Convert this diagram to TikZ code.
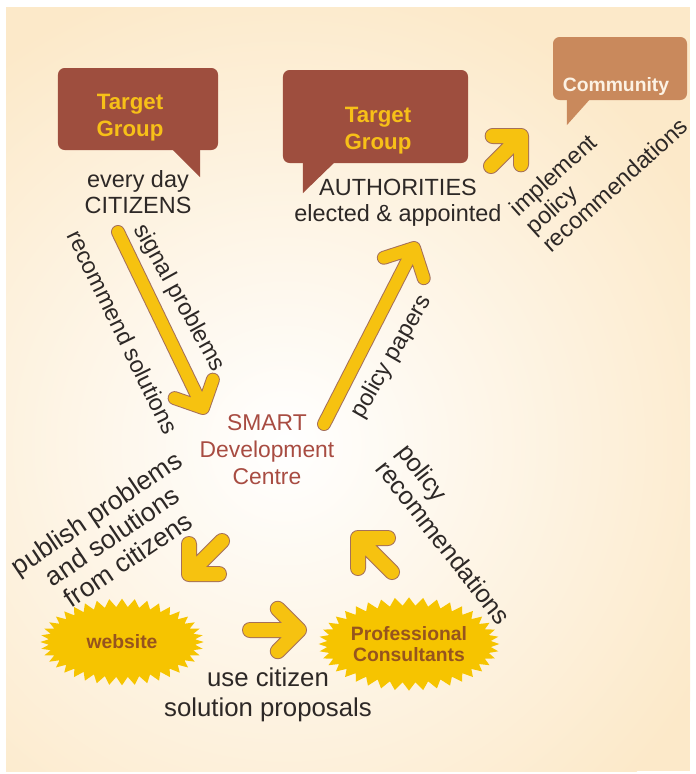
\documentclass[tikz,border=0pt]{standalone}
\usepackage{fontspec}
\setmainfont{Liberation Sans}
\usetikzlibrary{calc,shapes.symbols}
\definecolor{bgbeige}{RGB}{252,233,201}
\definecolor{tgbrown}{RGB}{158,78,62}
\definecolor{combrown}{RGB}{201,137,92}
\definecolor{comtext}{RGB}{252,242,228}
\definecolor{tgyellow}{RGB}{247,192,24}
\definecolor{smartred}{RGB}{168,76,66}
\definecolor{burstyellow}{RGB}{246,196,0}
\definecolor{burstbrown}{RGB}{150,84,30}
\definecolor{arrowfill}{RGB}{246,194,16}
\definecolor{arrowedge}{RGB}{165,112,90}
\definecolor{inktext}{RGB}{45,40,38}
\begin{document}
\begin{tikzpicture}[x=0.03cm,y=-0.03cm,
  bubble/.style={rounded corners=0.2cm,inner sep=0pt},
  headtext/.style={font=\bfseries\fontsize{19}{23}\selectfont,text=tgyellow,align=center},
  saytext/.style={font=\fontsize{20}{22.5}\selectfont,text=inktext,align=center},
  burst/.style={starburst,fill=burstyellow,starburst points=40,starburst point height=0.25cm,random starburst=0,inner sep=0pt,
    font=\bfseries\fontsize{16.5}{17.5}\selectfont,text=burstbrown,align=center},
  fatarrow/.style={draw=arrowedge,line width=0.03cm,double=arrowfill,double distance=0.36cm,line cap=round,line join=round},
  smallarrow/.style={fatarrow,double distance=0.42cm}]
 \useasboundingbox (0,0) rectangle (696,774);
 \fill[bgbeige] (6,7) rectangle (690,771);
 \begin{scope}
  \clip (6,7) rectangle (690,771);
  \shade[inner color=white,outer color=bgbeige] (285,445) circle (14.4cm);
 \end{scope}

 \node[bubble,fill=tgbrown,minimum width=4.8cm,minimum height=2.46cm] (citbox) at (138,109) {};
 \fill[tgbrown] ($(citbox.south east)+(-48,-3)$) -- ($(citbox.south east)+(-18,27)$) -- ($(citbox.south east)+(-18,-3)$) -- cycle;
 \node[bubble,fill=tgbrown,minimum width=5.55cm,minimum height=2.79cm] (authbox) at (375.5,116.5) {};
 \fill[tgbrown] ($(authbox.south west)+(20,-3)$) -- ($(authbox.south west)+(20,30)$) -- ($(authbox.south west)+(54,-3)$) -- cycle;
 \node[bubble,fill=combrown,minimum width=4.02cm,minimum height=1.89cm] (combox) at (620,68.5) {};
 \fill[combrown] ($(combox.south west)+(14,-3)$) -- ($(combox.south west)+(14,25)$) -- ($(combox.south west)+(39,-3)$) -- cycle;

 \node[headtext] (cittitle) at (130,118) {Target\\Group};
 \node[headtext] (authtitle) at (378,131) {Target\\Group};
 \node[headtext,font=\bfseries\fontsize{16.5}{18}\selectfont,text=comtext] (comtitle) at (616,86) {Community};

 \node[saytext] (citizens) at (138,192) {every day\\CITIZENS};
 \node[saytext] (authorities) at (398,203) {AUTHORITIES\\elected \& appointed};
 \node[saytext,text=smartred,font=\fontsize{19.5}{23}\selectfont] (smart) at (267,450) {SMART\\Development\\Centre};
 \node[saytext,font=\fontsize{22}{25.5}\selectfont] (usetext) at (268,695) {use citizen\\solution proposals};

 \node[saytext,rotate=-61] (signal) at (179,298) {signal problems};
 \node[saytext,rotate=-64] (recommend) at (123,332) {recommend solutions};
 \node[saytext,rotate=60] (papers) at (392,357) {policy papers};
 \node[saytext,rotate=-52,align=left,anchor=west,font=\fontsize{21.5}{23}\selectfont] (policyrec) at (390,452) {policy\\recommendations};
 \node[saytext,rotate=42,align=left,anchor=west,font=\fontsize{20}{21}\selectfont] (implement) at (526,232) {implement\\policy\\recommendations};
 \node[saytext,rotate=34,font=\fontsize{22.5}{24}\selectfont] (publish) at (112,536) {publish problems\\and solutions\\from citizens};

 \node[burst,minimum width=4.9cm,minimum height=2.6cm] (website) at (122,642) {website};
 \node[burst,minimum width=4.9cm,minimum height=2.8cm] (consult) at (409,644) {Professional\\Consultants};

 \coordinate (sigtail) at (118,232);
 \coordinate (sigtip) at (203,408);
 \coordinate (paptail) at (324,424);
 \coordinate (paptip) at (414,248);
 \coordinate (comtail) at (491,166);
 \coordinate (comtip) at (521,136);
 \coordinate (webtail) at (222,541);
 \coordinate (webtip) at (189,574);
 \coordinate (usetail) at (250,630);
 \coordinate (usetip) at (299,630);
 \coordinate (rectail) at (392,572);
 \coordinate (rectip) at (358,538);
 \draw[fatarrow] (sigtail) -- (sigtip) ($(sigtip)!0.9cm!45:(sigtail)$) -- (sigtip) -- ($(sigtip)!0.9cm!-45:(sigtail)$);
 \draw[fatarrow] (paptail) -- (paptip) ($(paptip)!0.95cm!45:(paptail)$) -- (paptip) -- ($(paptip)!0.95cm!-45:(paptail)$);
 \draw[smallarrow] (comtail) -- (comtip) ($(comtip)!0.85cm!45:(comtail)$) -- (comtip) -- ($(comtip)!0.85cm!-45:(comtail)$);
 \draw[smallarrow] (webtail) -- (webtip) ($(webtip)!0.9cm!45:(webtail)$) -- (webtip) -- ($(webtip)!0.9cm!-45:(webtail)$);
 \draw[smallarrow] (usetail) -- (usetip) ($(usetip)!0.9cm!45:(usetail)$) -- (usetip) -- ($(usetip)!0.9cm!-45:(usetail)$);
 \draw[smallarrow] (rectail) -- (rectip) ($(rectip)!0.9cm!45:(rectail)$) -- (rectip) -- ($(rectip)!0.9cm!-45:(rectail)$);
\end{tikzpicture}
\end{document}
